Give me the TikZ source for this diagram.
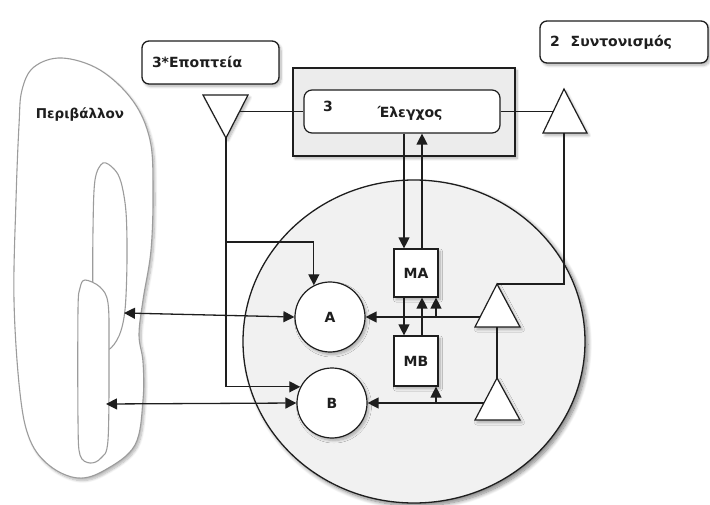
\documentclass[tikz,border=0pt]{standalone}
\usepackage{fontspec}
\setmainfont{DejaVu Sans}
\usetikzlibrary{arrows.meta,calc,shadows.blur,shapes.geometric}

\definecolor{ink}{HTML}{1E1E1E}
\definecolor{panel}{HTML}{ECECEC}
\definecolor{sysfill}{HTML}{F1F1F1}
\definecolor{envline}{HTML}{9C9C9C}

\tikzset{
  lbl/.style={font=\fontsize{14}{16}\selectfont\bfseries, text=ink, inner sep=0pt},
  softshadow/.style={blur shadow={shadow xshift=2pt, shadow yshift=-2.5pt,
      shadow blur steps=8, shadow blur radius=2.5pt, shadow opacity=30}},
  bigshadow/.style={blur shadow={shadow xshift=3pt, shadow yshift=-3pt,
      shadow blur steps=10, shadow blur radius=4pt, shadow opacity=50}},
  labelbox/.style={lbl, draw=ink, line width=1.3pt, fill=white, rounded corners=7pt,
      softshadow, align=left, inner xsep=10pt, anchor=center},
  panelbox/.style={draw=ink, line width=1.2pt, fill=panel, softshadow, inner sep=0pt},
  innerbox/.style={draw=ink, line width=1.2pt, fill=white, rounded corners=8pt, inner sep=0pt},
  sqbox/.style={lbl, draw=ink, line width=1.2pt, fill=white, softshadow},
  unit/.style={lbl, circle, draw=ink, line width=1.2pt, fill=white, softshadow,
      minimum size=70pt},
  tri/.style={draw=ink, line width=1.2pt, fill=white, line join=miter, softshadow},
  conn/.style={draw=ink, line width=1.3pt},
  tip/.tip={Triangle[length=11pt,width=11pt]},
  arr/.style={conn, -tip},
  darr/.style={conn, tip-tip},
  envshape/.style={draw=envline, line width=1.1pt, fill=white},
}

\begin{document}
\begin{tikzpicture}[x=1pt,y=-1pt]
\useasboundingbox (0,0) rectangle (710,505);

% --- environment ---
\path[envshape, softshadow] plot[smooth cycle, tension=0.6] coordinates {
  (22,90) (34,67) (62,58) (100,70) (133,101) (150,140) (153,190) (151,250)
  (143,300) (139,335) (143,362) (143,400) (135,445) (105,470) (78,478)
  (50,466) (30,440) (20,393) (14,300) (16,200) (19,125)};
\path[envshape] plot[smooth cycle, tension=0.55] coordinates {
  (103,163) (114,169) (121,182) (126,212) (127,260) (125,310) (119,336)
  (108,350) (96,345) (93,300) (93,230) (95,180)};
\path[envshape] plot[smooth cycle, tension=0.55] coordinates {
  (85,280) (100,287) (108,303) (109,350) (108,440) (101,458) (90,463)
  (80,455) (78,420) (78,310) (80,288)};
\node[lbl, font=\fontsize{13.5}{16}\selectfont\bfseries] (env) at (80,115) {Περιβάλλον};

% --- operational system ---
\node[ellipse, draw=ink, line width=1.3pt, fill=sysfill, bigshadow,
      minimum width=342pt, minimum height=323pt, inner sep=0pt] (sys) at (414,341.5) {};

% --- control (3) ---
\node[panelbox, minimum width=222pt, minimum height=88pt] (ctrl) at (404,112) {};
\node[innerbox, minimum width=196pt, minimum height=43pt] (elg) at (402,111.5) {};
\node[lbl] (elgnum) at (328,106) {3};
\node[lbl] (elgtxt) at (410,113) {Έλεγχος};

% --- audit (3*) and coordination (2) labels ---
\node[labelbox, text width=117pt, minimum height=43pt] (epo) at (210.5,62.5) {3*Εποπτεία};
\node[labelbox, text width=148pt, minimum height=42pt] (syn) at (624,42)
  {2\hspace{11pt}Συντονισμός};

% --- operational units and their management ---
\node[unit] (A) at (330,317) {A};
\node[unit] (B) at (332,403) {B};
\node[sqbox, minimum width=44pt, minimum height=48pt] (MA) at (416,273) {MA};
\node[sqbox, minimum width=44pt, minimum height=50pt] (MB) at (416,361) {MB};

% --- triangles ---
\path[tri] (203,95) -- (248,95) -- (226,138) -- cycle;
\coordinate (t1r) at (240,111.5);
\coordinate (t1b) at (226,138);
\coordinate (t1k) at (226,242);

\path[tri] (564,89) -- (587,133) -- (543,133) -- cycle;
\coordinate (t2l) at (553,111.5);
\coordinate (t2b) at (564,133);

\path[tri] (497,284) -- (520,327) -- (475,327) -- cycle;
\coordinate (t3a) at (497,284);
\coordinate (t3l) at (480,317);
\coordinate (t3b) at (497,327);

\path[tri] (497,378) -- (520,420) -- (475,420) -- cycle;
\coordinate (t4a) at (497,378);
\coordinate (t4l) at (484,403);

% --- connectors ---
\draw[conn] (t1r) -- (elg.west);
\draw[conn] (elg.east) -- (t2l);
\draw[conn] (t2b) |- (t3a);
\draw[conn] (t3b) -- (t4a);
\draw[arr] (t3l) -- (A.east);
\draw[arr] (t4l) -- (B.east);

\draw[arr] (t1b) |- (B.153);
\draw[arr] (t1k) -| (A.117);

\coordinate (xa) at (404,0);
\coordinate (xb) at (422,0);
\coordinate (xc) at (436,0);
\draw[arr] (elg.south -| xa) -- (MA.north -| xa);
\draw[arr] (MA.north -| xb) -- (elg.south -| xb);
\draw[arr] (MA.south -| xa) -- (MB.north -| xa);
\draw[arr] (MB.north -| xb) -- (MA.south -| xb);
\draw[arr] (A.east -| xc) -- (MA.south -| xc);
\draw[arr] (B.east -| xc) -- (MB.south -| xc);

\coordinate (envA) at (124,313);
\coordinate (envB) at (106,404);
\draw[darr] (envA) -- (A.west);
\draw[darr] (envB) -- (B.west);
\end{tikzpicture}
\end{document}
